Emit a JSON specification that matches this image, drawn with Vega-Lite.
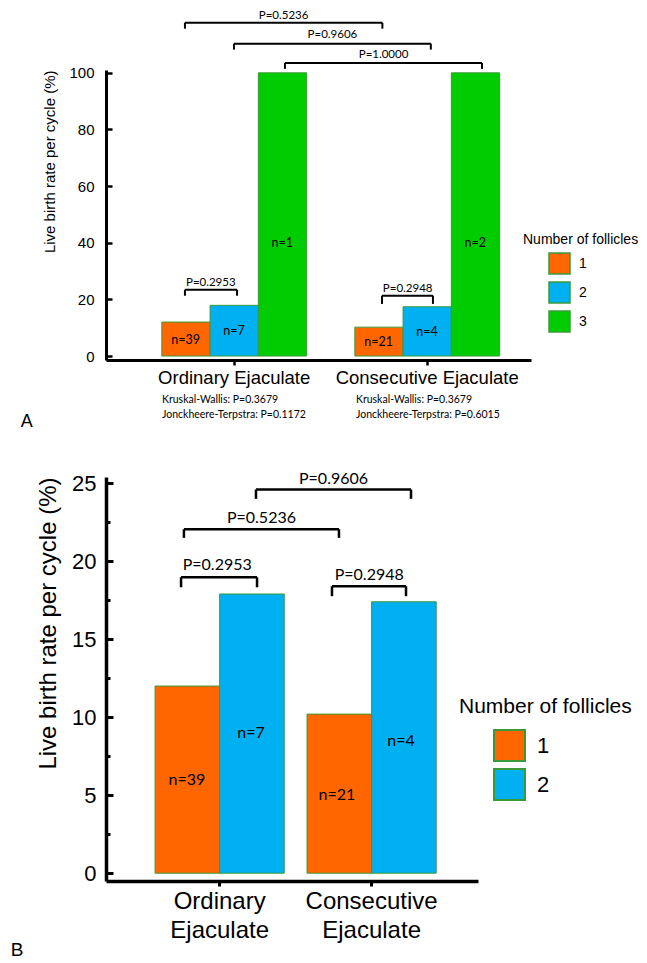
{
  "$schema": "https://vega.github.io/schema/vega-lite/v6.json",
  "background": "white",
  "padding": {"left": 10, "top": 9, "right": 0, "bottom": 0},
  "autosize": {"type": "pad"},
  "spacing": 38,
  "config": {
    "view": {"stroke": null},
    "axis": {"grid": false, "domainColor": "black", "tickColor": "black", "labelColor": "black", "titleColor": "black", "labelFont": "Liberation Sans", "titleFont": "Liberation Sans", "titleFontWeight": "normal"},
    "legend": {"titleFont": "Liberation Sans", "labelFont": "Liberation Sans", "titleFontWeight": "normal", "titleColor": "black", "labelColor": "black", "padding": 0}
  },
  "datasets": {
    "barsA": [
      {"group": "Ordinary Ejaculate", "follicles": "1", "rate": 12.0},
      {"group": "Ordinary Ejaculate", "follicles": "2", "rate": 17.9},
      {"group": "Ordinary Ejaculate", "follicles": "3", "rate": 100},
      {"group": "Consecutive Ejaculate", "follicles": "1", "rate": 10.2},
      {"group": "Consecutive Ejaculate", "follicles": "2", "rate": 17.4},
      {"group": "Consecutive Ejaculate", "follicles": "3", "rate": 100}
    ],
    "barsB": [
      {"group": "Ordinary Ejaculate", "follicles": "1", "rate": 12.0},
      {"group": "Ordinary Ejaculate", "follicles": "2", "rate": 17.9},
      {"group": "Consecutive Ejaculate", "follicles": "1", "rate": 10.2},
      {"group": "Consecutive Ejaculate", "follicles": "2", "rate": 17.4}
    ],
    "bracketsA": [
      {"x1": 0.746, "x2": 1.769, "y": 117.7, "yt": 115.6},
      {"x1": 1.0, "x2": 2.02, "y": 110.3, "yt": 108.2},
      {"x1": 1.264, "x2": 2.285, "y": 103.5, "yt": 101.4},
      {"x1": 0.746, "x2": 1.016, "y": 23.4, "yt": 21.3},
      {"x1": 1.767, "x2": 2.031, "y": 21.3, "yt": 18.4}
    ],
    "bracketsB": [
      {"x1": 1.24, "x2": 2.26, "y": 24.6, "yt": 24.0},
      {"x1": 0.766, "x2": 1.786, "y": 22.05, "yt": 21.5},
      {"x1": 0.747, "x2": 1.247, "y": 18.97, "yt": 18.33},
      {"x1": 1.74, "x2": 2.227, "y": 18.4, "yt": 17.76}
    ],
    "textA": [
      {"kind": "p", "x": 1.257, "y": 120.2, "text": "P=0.5236"},
      {"kind": "p", "x": 1.51, "y": 113.5, "text": "P=0.9606"},
      {"kind": "p", "x": 1.775, "y": 106.4, "text": "P=1.0000"},
      {"kind": "p", "x": 0.88, "y": 25.7, "text": "P=0.2953"},
      {"kind": "p", "x": 1.9, "y": 23.8, "text": "P=0.2948"},
      {"kind": "n", "x": 0.75, "y": 5.7, "text": "n=39"},
      {"kind": "n", "x": 1.0, "y": 8.9, "text": "n=7"},
      {"kind": "n", "x": 1.25, "y": 40, "text": "n=1"},
      {"kind": "n", "x": 1.75, "y": 5.0, "text": "n=21"},
      {"kind": "n", "x": 2.0, "y": 8.5, "text": "n=4"},
      {"kind": "n", "x": 2.25, "y": 40, "text": "n=2"},
      {"kind": "kw", "x": 0.627, "y": -15.6, "text": "Kruskal-Wallis: P=0.3679"},
      {"kind": "kw", "x": 0.627, "y": -20.9, "text": "Jonckheere-Terpstra:  P=0.1172"},
      {"kind": "kw", "x": 1.632, "y": -15.6, "text": "Kruskal-Wallis: P=0.3679"},
      {"kind": "kw", "x": 1.632, "y": -20.9, "text": "Jonckheere-Terpstra: P=0.6015"},
      {"kind": "panel", "x": -0.073, "y": -23.3, "text": "A"}
    ],
    "textB": [
      {"kind": "p", "x": 1.75, "y": 25.3, "text": "P=0.9606"},
      {"kind": "p", "x": 1.276, "y": 22.75, "text": "P=0.5236"},
      {"kind": "p", "x": 0.985, "y": 19.74, "text": "P=0.2953"},
      {"kind": "p", "x": 1.985, "y": 19.1, "text": "P=0.2948"},
      {"kind": "n", "x": 0.786, "y": 5.96, "text": "n=39"},
      {"kind": "n", "x": 1.207, "y": 8.97, "text": "n=7"},
      {"kind": "n", "x": 1.773, "y": 5.0, "text": "n=21"},
      {"kind": "n", "x": 2.194, "y": 8.5, "text": "n=4"},
      {"kind": "panel", "x": -0.332, "y": -4.95, "text": "B"}
    ]
  },
  "vconcat": [
    {
      "width": 425,
      "height": 290,
      "resolve": {"scale": {"x": "independent"}},
      "layer": [
        {
          "data": {"name": "barsA"},
          "mark": {"type": "bar", "stroke": "#3A9A3A", "strokeWidth": 1},
          "encoding": {
            "x": {"field": "group", "type": "nominal", "sort": ["Ordinary Ejaculate", "Consecutive Ejaculate"],
                  "scale": {"type": "band", "paddingInner": 0.25, "paddingOuter": 0.226, "align": 0.64},
                  "axis": {"title": null, "labelAngle": 0, "labelFontSize": 18.5, "domainWidth": 3, "tickWidth": 2.5, "tickSize": 5, "labelPadding": 3, "labelLimit": 0}},
            "xOffset": {"field": "follicles", "type": "nominal", "scale": {"paddingInner": 0, "paddingOuter": 0}},
            "y": {"field": "rate", "type": "quantitative",
                  "scale": {"domain": [-1.4, 101], "nice": false, "zero": false},
                  "axis": {"title": "Live birth rate per cycle (%)", "titleFontSize": 15, "titleAnchor": "end", "titlePadding": 11,
                           "values": [0, 10, 20, 30, 40, 50, 60, 70, 80, 90, 100],
                           "labelExpr": "datum.value % 20 === 0 ? datum.label : ''",
                           "labelFontSize": 15, "domainWidth": 3, "tickWidth": 2.5,
                           "tickSize": {"condition": {"test": "datum.value % 20 === 0", "value": -6}, "value": -3},
                           "labelPadding": 18}},
            "y2": {"datum": 0},
            "color": {"field": "follicles", "type": "nominal",
                      "scale": {"domain": ["1", "2", "3"], "range": ["#FF6600", "#00B0F0", "#00CC00"]},
                      "legend": {"orient": "none", "legendX": 417, "legendY": 163, "title": "Number of follicles",
                                 "titleFontSize": 14, "titlePadding": 5, "labelFontSize": 14,
                                 "symbolType": "square", "symbolSize": 441, "symbolStrokeColor": "#3A9A3A", "symbolStrokeWidth": 1.5,
                                 "symbolOffset": 25, "labelOffset": 8, "rowPadding": 2}}
          }
        },
        {
          "data": {"name": "bracketsA"},
          "encoding": {
            "x": {"field": "x1", "type": "quantitative", "scale": {"domain": [0.337, 2.539], "nice": false, "zero": false}, "axis": null},
            "y": {"field": "y", "type": "quantitative"}
          },
          "layer": [
            {"mark": {"type": "rule", "strokeWidth": 2, "color": "black"}, "encoding": {"x2": {"field": "x2"}}},
            {"mark": {"type": "rule", "strokeWidth": 2, "color": "black"}, "encoding": {"y2": {"field": "yt"}}},
            {"mark": {"type": "rule", "strokeWidth": 2, "color": "black"}, "encoding": {"x": {"field": "x2", "type": "quantitative", "scale": {"domain": [0.337, 2.539], "nice": false, "zero": false}, "axis": null}, "y2": {"field": "yt"}}}
          ]
        },
        {
          "data": {"name": "textA"},
          "encoding": {
            "x": {"field": "x", "type": "quantitative", "scale": {"domain": [0.337, 2.539], "nice": false, "zero": false}, "axis": null},
            "y": {"field": "y", "type": "quantitative"},
            "text": {"field": "text"}
          },
          "layer": [
            {"transform": [{"filter": "datum.kind === 'p'"}], "mark": {"type": "text", "font": "Lato", "fontSize": 11.5, "color": "black", "baseline": "middle"}},
            {"transform": [{"filter": "datum.kind === 'n'"}], "mark": {"type": "text", "font": "Lato", "fontSize": 12.5, "color": "black", "baseline": "middle"}},
            {"transform": [{"filter": "datum.kind === 'kw'"}], "mark": {"type": "text", "font": "Lato", "fontSize": 10.5, "color": "black", "align": "left", "baseline": "middle"}},
            {"transform": [{"filter": "datum.kind === 'panel'"}], "mark": {"type": "text", "font": "Liberation Sans", "fontSize": 18, "color": "black", "baseline": "middle"}}
          ]
        }
      ]
    },
    {
      "width": 372,
      "height": 404,
      "resolve": {"scale": {"x": "independent"}},
      "layer": [
        {
          "data": {"name": "barsB"},
          "mark": {"type": "bar", "stroke": "#3A9A3A", "strokeWidth": 1},
          "encoding": {
            "x": {"field": "group", "type": "nominal", "sort": ["Ordinary Ejaculate", "Consecutive Ejaculate"],
                  "scale": {"type": "band", "paddingInner": 0.15, "paddingOuter": 0.299, "align": 0.54},
                  "axis": {"title": null, "labelAngle": 0, "labelFontSize": 24, "labelExpr": "split(datum.label, ' ')", "labelLineHeight": 29,
                           "domainWidth": 3.5, "tickWidth": 3, "tickSize": 5, "labelPadding": 3, "labelLimit": 0}},
            "xOffset": {"field": "follicles", "type": "nominal", "scale": {"paddingInner": 0, "paddingOuter": 0}},
            "y": {"field": "rate", "type": "quantitative",
                  "scale": {"domain": [-0.5, 25.4], "nice": false, "zero": false},
                  "axis": {"title": "Live birth rate per cycle (%)", "titleFontSize": 24, "titleAnchor": "end", "titlePadding": 11,
                           "values": [0, 2.5, 5, 7.5, 10, 12.5, 15, 17.5, 20, 22.5, 25],
                           "labelExpr": "datum.value % 5 === 0 ? datum.label : ''",
                           "labelFontSize": 22, "domainWidth": 3.5, "tickWidth": 3,
                           "tickSize": {"condition": {"test": "datum.value % 5 === 0", "value": -7}, "value": -4},
                           "labelPadding": 17}},
            "y2": {"datum": 0},
            "color": {"field": "follicles", "type": "nominal",
                      "scale": {"domain": ["1", "2"], "range": ["#FF6600", "#00B0F0"]},
                      "legend": {"orient": "none", "legendX": 353, "legendY": 219, "title": "Number of follicles",
                                 "titleFontSize": 21, "titlePadding": 12, "labelFontSize": 22,
                                 "symbolType": "square", "symbolSize": 961, "symbolStrokeColor": "#3A9A3A", "symbolStrokeWidth": 2,
                                 "symbolOffset": 34, "labelOffset": 11, "rowPadding": 0}}
          }
        },
        {
          "data": {"name": "bracketsB"},
          "encoding": {
            "x": {"field": "x1", "type": "quantitative", "scale": {"domain": [0.2533, 2.7007], "nice": false, "zero": false}, "axis": null},
            "y": {"field": "y", "type": "quantitative"}
          },
          "layer": [
            {"mark": {"type": "rule", "strokeWidth": 2.5, "color": "black"}, "encoding": {"x2": {"field": "x2"}}},
            {"mark": {"type": "rule", "strokeWidth": 2.5, "color": "black"}, "encoding": {"y2": {"field": "yt"}}},
            {"mark": {"type": "rule", "strokeWidth": 2.5, "color": "black"}, "encoding": {"x": {"field": "x2", "type": "quantitative", "scale": {"domain": [0.2533, 2.7007], "nice": false, "zero": false}, "axis": null}, "y2": {"field": "yt"}}}
          ]
        },
        {
          "data": {"name": "textB"},
          "encoding": {
            "x": {"field": "x", "type": "quantitative", "scale": {"domain": [0.2533, 2.7007], "nice": false, "zero": false}, "axis": null},
            "y": {"field": "y", "type": "quantitative"},
            "text": {"field": "text"}
          },
          "layer": [
            {"transform": [{"filter": "datum.kind === 'p'"}], "mark": {"type": "text", "font": "Lato", "fontSize": 16, "color": "black", "baseline": "middle"}},
            {"transform": [{"filter": "datum.kind === 'n'"}], "mark": {"type": "text", "font": "Lato", "fontSize": 16, "color": "black", "baseline": "middle"}},
            {"transform": [{"filter": "datum.kind === 'panel'"}], "mark": {"type": "text", "font": "Liberation Sans", "fontSize": 19, "color": "black", "baseline": "middle"}}
          ]
        }
      ]
    }
  ],
  "resolve": {"scale": {"x": "independent", "y": "independent", "color": "independent", "xOffset": "independent"}, "legend": {"color": "independent"}}
}
